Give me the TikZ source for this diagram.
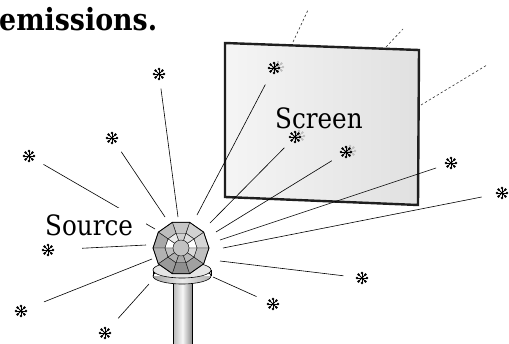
\documentclass[tikz,border=0pt]{standalone}
\usepackage{fontspec}
\newfontfamily\labelfont[FakeStretch=0.88]{DejaVu Serif}
\begin{document}
\begin{tikzpicture}[x=1pt,y=-1pt,
  ray/.style={line width=0.6pt},
  sightline/.style={line width=0.6pt, black!80, dash pattern=on 2.4pt off 2.2pt},
  facet/.style={draw=black!90, line width=0.45pt, line join=round},
  astx/.style={circle, minimum size=15pt, inner sep=0pt,
    path picture={
      \foreach \t in {0,45,...,315}{
        \draw[#1, line width=0.9pt] (path picture bounding box.center) -- +(\t:5.2pt);
        \fill[#1] (path picture bounding box.center) ++(\t:5pt) circle (1.35pt);
      }}},
  astx/.default=black,
  tag/.style={font=\labelfont\fontsize{28}{30}\selectfont, inner sep=0pt, anchor=base west}
]
\useasboundingbox (0,0) rectangle (509,343);

% ---- screen ----
\coordinate (scTL) at (225,43);
\coordinate (scTR) at (419,50);
\coordinate (scBR) at (418,205);
\coordinate (scBL) at (225,197);
\shade[left color=black!4, right color=black!12] (scTL) -- (scTR) -- (scBR) -- (scBL) -- cycle;
\draw[line width=2.4pt, black!88, line join=miter] (scTL) -- (scTR) -- (scBR) -- (scBL) -- cycle;

% ---- lines of sight behind the screen ----
\coordinate (d1a) at (293,42);  \coordinate (d1b) at (308,10);
\coordinate (d2a) at (386,47);  \coordinate (d2b) at (403,29);
\coordinate (d3a) at (421,105); \coordinate (d3b) at (487,65);
\draw[sightline] (d1a) -- (d1b);
\draw[sightline] (d2a) -- (d2b);
\draw[sightline] (d3a) -- (d3b);

% ---- emission points ----
\foreach \n/\x/\y in {1/159/74, 2/112/138, 3/29/156, 4/48/250, 5/21/311, 6/105/333,
                      7/274/68, 8/295/137, 9/346/152, 10/451/163, 11/502/193,
                      12/362/278, 13/273/304}
  \node[circle, minimum size=13pt, inner sep=0pt] (s\n) at (\x,\y) {};

% ---- ray origins around the source ----
\foreach \n/\x/\y in {1/178/217, 2/165/217, 3/155/229, 4/146/245, 5/152/259, 6/149/284,
                      7/197/215, 8/210/223, 9/216/232, 10/220/240, 11/223/248,
                      12/220/261, 13/213/277}
  \coordinate (r\n) at (\x,\y);

% ---- rays ----
\foreach \n/\g in {1/8, 2/10, 3/10, 4/27.5, 5/18, 6/13, 7/12, 8/8.5, 9/10, 10/9,
                   11/14, 12/12, 13/11.5}
  \draw[ray, shorten >=\g pt] (r\n) -- (s\n);

% ---- labels ----
\node[tag, fill=white, inner xsep=13pt, inner ysep=6pt] (src) at (32,235) {Source};
\node[tag] (scr) at (275,128) {Screen};
\node[tag, font=\labelfont\bfseries\fontsize{30.5}{32}\selectfont] (ttl) at (-1,30) {emissions.};

% ---- pedestal ----
\shade[left color=black!28, right color=black!45, middle color=black!3]
  (173,282) rectangle (192,345);
\draw[line width=0.6pt] (173,282) -- (173,345) (192,282) -- (192,345);
\shade[left color=black!35, right color=black!30, middle color=black!8]
  (153,270) rectangle (211,276) (182,276) ellipse [x radius=29, y radius=8];
\draw[line width=0.6pt] (182,276) ellipse [x radius=29, y radius=8];
\draw[line width=0.6pt] (153,270) -- (153,276) (211,270) -- (211,276);
\filldraw[fill=black!10, line width=0.6pt] (182,270) ellipse [x radius=29, y radius=8];

% ---- faceted source ----
\begin{scope}[shift={(181,248)}, y=1pt]
  \foreach \k/\o/\m in {0/16/0, 1/18/12, 2/22/18, 3/26/8, 4/34/0,
                        5/30/25, 6/40/31, 7/44/34, 8/37/28, 9/25/15} {
    \pgfmathsetmacro\a{36*\k}
    \pgfmathsetmacro\b{36*\k+36}
    \path[facet, fill=black!\o]
      ({28*cos(\a)},{27*sin(\a)}) -- ({28*cos(\b)},{27*sin(\b)})
      -- ({16*cos(\b)},{15.5*sin(\b)}) -- ({16*cos(\a)},{15.5*sin(\a)}) -- cycle;
    \path[facet, fill=black!\m]
      ({16*cos(\a)},{15.5*sin(\a)}) -- ({16*cos(\b)},{15.5*sin(\b)})
      -- ({8*cos(\b)},{8*sin(\b)}) -- ({8*cos(\a)},{8*sin(\a)}) -- cycle;
  }
  \path[facet, fill=black!24] (0,0) circle (8);
  \draw[line width=0.8pt, line join=round]
    (0:28 and 27) -- (36:28 and 27) -- (72:28 and 27) -- (108:28 and 27)
    -- (144:28 and 27) -- (180:28 and 27) -- (216:28 and 27) -- (252:28 and 27)
    -- (288:28 and 27) -- (324:28 and 27) -- cycle;
\end{scope}

% ---- asterisks ----
\foreach \n/\x/\y in {7/278/67, 8/299/136, 9/350/151}
  \node[astx=black!25] (sh\n) at (\x,\y) {};
\foreach \n in {1,...,13}
  \node[astx] at (s\n) {};
\end{tikzpicture}
\end{document}
